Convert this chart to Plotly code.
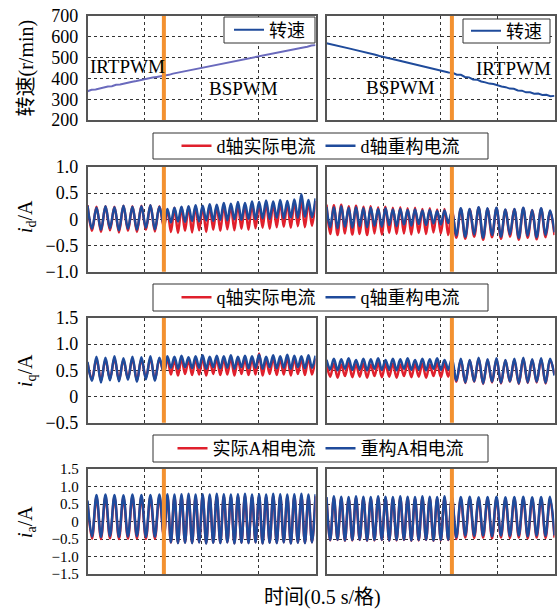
import numpy as np
import plotly.graph_objects as go

# ---------------- data ----------------
speed_left = [338, 345, 347, 352, 355, 361, 362, 369, 371, 376, 380, 384, 387, 392, 396, 399, 404, 407, 410, 416,
              417, 423, 427, 430, 434, 438, 442, 446, 449, 455, 457, 462, 465, 470, 473, 478, 481, 486, 489, 494,
              498, 502, 505, 510, 513, 518, 521, 526, 529, 534, 537, 541, 545, 549, 552, 558, 560]
speed_right = [569, 565, 561, 555, 552, 546, 542, 537, 533, 527, 524, 518, 514, 508, 504, 499, 494, 490, 485, 480,
               475, 471, 465, 462, 455, 452, 446, 443, 436, 433, 428, 427, 418, 417, 407, 405, 395, 394, 385, 381,
               375, 373, 366, 361, 358, 351, 350, 342, 341, 333, 333, 326, 327, 320, 321, 314, 316]

switch_left = 1.34
switch_right = 2.2

# d-axis current
d_blue_L_pre = [0.26, -0.18, 0.22, -0.20, 0.25, -0.17, 0.23, -0.21, 0.26, -0.18, 0.24, -0.20, 0.25, -0.16, 0.27, -0.19, 0.24, -0.10]
d_red_L_pre = [0.27, -0.22, 0.24, -0.24, 0.25, -0.21, 0.24, -0.25, 0.26, -0.22, 0.25, -0.24, 0.26, -0.20, 0.27, -0.23, 0.25, -0.15]
d_blue_L_post = [0.20, -0.06, 0.22, -0.04, 0.24, -0.05, 0.25, -0.03, 0.27, -0.04, 0.26, -0.02, 0.29, -0.03, 0.28, -0.01,
                 0.31, -0.02, 0.30, 0.00, 0.33, -0.01, 0.31, 0.01, 0.34, 0.00, 0.33, 0.02, 0.36, 0.01, 0.34, 0.03,
                 0.37, 0.02, 0.35, 0.04, 0.38, 0.03, 0.48, 0.05, 0.37, 0.04, 0.40]
d_red_L_post = [0.18, -0.24, 0.22, -0.26, 0.23, -0.22, 0.24, -0.25, 0.25, -0.21, 0.24, -0.24, 0.27, -0.20, 0.26, -0.22,
                0.28, -0.19, 0.27, -0.21, 0.29, -0.18, 0.28, -0.20, 0.30, -0.17, 0.29, -0.16, 0.32, -0.18, 0.30, -0.15,
                0.33, -0.14, 0.31, -0.16, 0.34, -0.13, 0.36, -0.15, 0.33, -0.12, 0.35]
d_blue_R_pre = [0.24, -0.15, 0.23, -0.17, 0.25, -0.14, 0.22, -0.16, 0.23, -0.13, 0.21, -0.15, 0.22, -0.12, 0.20, -0.14,
                0.21, -0.11, 0.19, -0.13, 0.20, -0.10, 0.18, -0.12, 0.19, -0.09, 0.17, -0.11, 0.18, -0.08, 0.16, -0.10,
                0.17, -0.07, 0.15]
d_red_R_pre = [0.28, -0.28, 0.27, -0.30, 0.28, -0.27, 0.25, -0.29, 0.26, -0.28, 0.24, -0.30, 0.25, -0.27, 0.23, -0.29,
               0.24, -0.26, 0.22, -0.28, 0.23, -0.27, 0.21, -0.29, 0.22, -0.26, 0.20, -0.28, 0.21, -0.25, 0.19, -0.27,
               0.20, -0.30, 0.18]
d_blue_R_post = [-0.31, 0.21, -0.33, 0.20, -0.29, 0.23, -0.35, 0.21, -0.30, 0.22, -0.33, 0.19, -0.29, 0.20, -0.35, 0.22,
                 -0.31, 0.18, -0.34, 0.21, -0.30, 0.17, -0.25]
d_red_R_post = [-0.35, 0.20, -0.37, 0.19, -0.33, 0.22, -0.39, 0.20, -0.34, 0.21, -0.37, 0.18, -0.33, 0.19, -0.39, 0.21,
                -0.35, 0.17, -0.38, 0.20, -0.34, 0.16, -0.30]

# q-axis current
q_blue_L_pre = [0.66, 0.30, 0.76, 0.27, 0.74, 0.31, 0.77, 0.29, 0.73, 0.32, 0.76, 0.28, 0.75, 0.33, 0.77, 0.30, 0.74, 0.45]
q_red_L_pre = [0.64, 0.33, 0.72, 0.31, 0.70, 0.34, 0.73, 0.32, 0.70, 0.35, 0.72, 0.31, 0.71, 0.36, 0.73, 0.33, 0.71, 0.46]
q_blue_L_post = [0.77, 0.55, 0.76, 0.53, 0.78, 0.56, 0.75, 0.54, 0.77, 0.55, 0.79, 0.53, 0.76, 0.56, 0.78, 0.54,
                 0.77, 0.55, 0.79, 0.53, 0.76, 0.56, 0.78, 0.54, 0.77, 0.55, 0.80, 0.53, 0.76, 0.56, 0.79, 0.54,
                 0.77, 0.55, 0.80, 0.53, 0.78, 0.56, 0.77, 0.54, 0.79, 0.55, 0.78]
q_red_L_post = [0.72, 0.42, 0.71, 0.40, 0.73, 0.43, 0.70, 0.41, 0.72, 0.42, 0.74, 0.40, 0.71, 0.43, 0.73, 0.41,
                0.72, 0.42, 0.74, 0.40, 0.71, 0.43, 0.72, 0.41, 0.72, 0.42, 0.82, 0.40, 0.71, 0.43, 0.74, 0.41,
                0.72, 0.42, 0.75, 0.40, 0.73, 0.43, 0.72, 0.41, 0.74, 0.42, 0.73]
q_blue_R_pre = [0.70, 0.52, 0.72, 0.50, 0.71, 0.53, 0.73, 0.51, 0.70, 0.52, 0.72, 0.50, 0.71, 0.53, 0.73, 0.51,
                0.70, 0.52, 0.72, 0.50, 0.71, 0.53, 0.73, 0.51, 0.70, 0.52, 0.72, 0.50, 0.71, 0.53, 0.73, 0.51,
                0.70, 0.52, 0.72]
q_red_R_pre = [0.62, 0.38, 0.63, 0.36, 0.61, 0.39, 0.64, 0.37, 0.62, 0.38, 0.63, 0.36, 0.61, 0.39, 0.64, 0.37,
               0.62, 0.38, 0.63, 0.36, 0.61, 0.39, 0.64, 0.37, 0.62, 0.38, 0.63, 0.36, 0.61, 0.39, 0.64, 0.37,
               0.62, 0.38, 0.63]
q_blue_R_post = [0.30, 0.72, 0.27, 0.70, 0.29, 0.74, 0.25, 0.71, 0.28, 0.73, 0.26, 0.70, 0.29, 0.72, 0.25, 0.74,
                 0.27, 0.71, 0.28, 0.73, 0.26, 0.72, 0.40]
q_red_R_post = [0.28, 0.70, 0.26, 0.69, 0.28, 0.72, 0.24, 0.70, 0.27, 0.71, 0.25, 0.69, 0.28, 0.70, 0.24, 0.72,
                0.26, 0.70, 0.27, 0.71, 0.25, 0.70, 0.42]

# A-phase current
a_blue_L_pre = [0.60, -0.43, 0.76, -0.44, 0.77, -0.42, 0.76, -0.44, 0.75, -0.43, 0.77, -0.42, 0.76, -0.44, 0.76, -0.43, 0.77, -0.40]
a_red_L_pre = [0.55, -0.49, 0.70, -0.50, 0.71, -0.48, 0.70, -0.50, 0.69, -0.49, 0.71, -0.48, 0.70, -0.50, 0.70, -0.49, 0.71, -0.45]
a_blue_L_post = [0.78, -0.60, 0.77, -0.62, 0.78, -0.61, 0.79, -0.62, 0.77, -0.60, 0.78, -0.63, 0.77, -0.61, 0.79, -0.62,
                 0.78, -0.60, 0.77, -0.63, 0.78, -0.61, 0.79, -0.62, 0.77, -0.60, 0.78, -0.63, 0.77, -0.61, 0.79, -0.62,
                 0.78, -0.60, 0.77, -0.63, 0.78, -0.61, 0.79, -0.62, 0.77, -0.60, 0.78]
a_red_L_post = [0.72, -0.60, 0.71, -0.61, 0.72, -0.60, 0.73, -0.61, 0.71, -0.59, 0.72, -0.62, 0.71, -0.60, 0.73, -0.61,
                0.72, -0.59, 0.71, -0.62, 0.72, -0.60, 0.73, -0.61, 0.71, -0.59, 0.72, -0.62, 0.71, -0.60, 0.73, -0.61,
                0.72, -0.59, 0.71, -0.62, 0.72, -0.60, 0.73, -0.61, 0.71, -0.59, 0.72]
a_blue_R_pre = [0.70, -0.53, 0.72, -0.52, 0.71, -0.54, 0.70, -0.53, 0.72, -0.52, 0.71, -0.54, 0.70, -0.53, 0.72, -0.52,
                0.71, -0.54, 0.70, -0.53, 0.72, -0.52, 0.71, -0.54, 0.70, -0.53, 0.72, -0.52, 0.71, -0.54, 0.70, -0.53,
                0.72, -0.52, 0.71]
a_red_R_pre = [0.66, -0.54, 0.68, -0.53, 0.67, -0.55, 0.66, -0.54, 0.68, -0.53, 0.67, -0.55, 0.66, -0.54, 0.68, -0.53,
               0.67, -0.55, 0.66, -0.54, 0.68, -0.53, 0.67, -0.55, 0.66, -0.54, 0.68, -0.53, 0.67, -0.55, 0.66, -0.54,
               0.68, -0.53, 0.67]
a_blue_R_post = [-0.45, 0.70, -0.40, 0.71, -0.41, 0.69, -0.40, 0.70, -0.42, 0.71, -0.40, 0.69, -0.41, 0.70, -0.40, 0.71,
                 -0.42, 0.69, -0.40, 0.70, -0.41, 0.71, -0.40]
a_red_R_post = [-0.50, 0.65, -0.46, 0.66, -0.47, 0.64, -0.46, 0.65, -0.48, 0.66, -0.46, 0.64, -0.47, 0.65, -0.46, 0.66,
                -0.48, 0.64, -0.46, 0.65, -0.47, 0.66, -0.46]

legend_names = [("转速",),
                ("d轴实际电流", "d轴重构电流"),
                ("q轴实际电流", "q轴重构电流"),
                ("实际A相电流", "重构A相电流")]
y_titles = ["转速(r/min)", "<i>i</i><sub>d</sub>/A", "<i>i</i><sub>q</sub>/A", "<i>i</i><sub>a</sub>/A"]
y_ranges = [[200, 700], [-1.0, 1.0], [-0.5, 1.5], [-1.5, 1.5]]
y_tickvals = [[200, 300, 400, 500, 600, 700],
              [-1.0, -0.5, 0, 0.5, 1.0],
              [-0.5, 0, 0.5, 1.0, 1.5],
              [-1.5, -1.0, -0.5, 0, 0.5, 1.0, 1.5]]
y_ticktext = [["200", "300", "400", "500", "600", "700"],
              ["−1.0", "−0.5", "0", "0.5", "1.0"],
              ["−0.5", "0", "0.5", "1.0", "1.5"],
              ["−1.5", "−1.0", "−0.5", "0", "0.5", "1.0", "1.5"]]

# ---------------- styling ----------------
W, H = 557, 612
FONT = "Liberation Serif, Times New Roman, Noto Sans CJK SC, serif"
RED = "#e0202c"
BLUE = "#1f4b9b"
PURPLE = "#6a6abd"
ORANGE = "#f39130"

col_px = [(87.5, 315.5), (326.5, 554.5)]
row_px = [(16, 120), (167, 271.7), (318, 422.7), (469, 574)]
tick_sizes = [18, 18, 18, 15]
# legend frames (left, top, right, bottom) in pixels
legend_boxes = {"legend": (224, 17, 315, 43), "legend5": (463, 19, 550, 43),
                "legend2": (153, 133, 488, 159), "legend3": (153, 284, 488, 311),
                "legend4": (153, 435, 488, 462)}


def seg_x(sw, n_pre, n_post):
    return np.concatenate([np.linspace(0, sw, n_pre), np.linspace(sw, 4, n_post + 1)[1:]])


fig = go.Figure()
layout = dict(width=W, height=H, margin=dict(l=0, r=0, t=0, b=0, autoexpand=False),
              paper_bgcolor="white", plot_bgcolor="white", showlegend=True,
              font=dict(family=FONT, size=18, color="black"))


def axis_idx(r, c):
    return r * 2 + c + 1


for r in range(4):
    for c in range(2):
        idx = axis_idx(r, c)
        xa = "xaxis" if idx == 1 else f"xaxis{idx}"
        ya = "yaxis" if idx == 1 else f"yaxis{idx}"
        x0, x1 = col_px[c]
        y0, y1 = row_px[r]
        layout[xa] = dict(domain=[x0 / W, x1 / W], range=[0, 4], tickvals=[0, 1, 2, 3, 4],
                          showticklabels=False, showgrid=True, griddash="dot", gridcolor="#333", gridwidth=1,
                          showline=True, mirror=True, linecolor="#555", linewidth=1.5, zeroline=False,
                          ticks="", anchor=f"y{'' if idx == 1 else idx}", fixedrange=True)
        layout[ya] = dict(domain=[1 - y1 / H, 1 - y0 / H], range=y_ranges[r], tickvals=y_tickvals[r],
                          ticktext=y_ticktext[r], showticklabels=(c == 0),
                          tickfont=dict(family=FONT, size=tick_sizes[r], color="black"),
                          showgrid=True, griddash="dot", gridcolor="#333", gridwidth=1,
                          showline=True, mirror=True, linecolor="#555", linewidth=1.5, zeroline=False,
                          ticks="", ticklabelstandoff=4, anchor=f"x{'' if idx == 1 else idx}", fixedrange=True)


def refs(r, c):
    idx = axis_idx(r, c)
    s = "" if idx == 1 else str(idx)
    return "x" + s, "y" + s


# row 1 speed
xs, ys = refs(0, 0)
fig.add_trace(go.Scatter(x=np.linspace(0, 4, len(speed_left)), y=speed_left, mode="lines",
                         line=dict(color=PURPLE, width=2), xaxis=xs, yaxis=ys, showlegend=False))
fig.add_trace(go.Scatter(x=[None], y=[None], mode="lines", name=legend_names[0][0],
                         line=dict(color=BLUE, width=2), xaxis=xs, yaxis=ys, legend="legend"))
xs, ys = refs(0, 1)
fig.add_trace(go.Scatter(x=np.linspace(0, 4, len(speed_right)), y=speed_right, mode="lines", name=legend_names[0][0],
                         line=dict(color=BLUE, width=2), xaxis=xs, yaxis=ys, legend="legend5"))

rows_data = [
    ((d_red_L_pre, d_red_L_post, d_blue_L_pre, d_blue_L_post), (d_red_R_pre, d_red_R_post, d_blue_R_pre, d_blue_R_post)),
    ((q_red_L_pre, q_red_L_post, q_blue_L_pre, q_blue_L_post), (q_red_R_pre, q_red_R_post, q_blue_R_pre, q_blue_R_post)),
    ((a_red_L_pre, a_red_L_post, a_blue_L_pre, a_blue_L_post), (a_red_R_pre, a_red_R_post, a_blue_R_pre, a_blue_R_post)),
]
for i, (left, right) in enumerate(rows_data):
    r = i + 1
    leg = f"legend{r + 1}"
    for c, data in enumerate((left, right)):
        sw = switch_left if c == 0 else switch_right
        red_pre, red_post, blue_pre, blue_post = data
        xs, ys = refs(r, c)
        red = list(red_pre) + list(red_post)
        blue = list(blue_pre) + list(blue_post)
        fig.add_trace(go.Scatter(x=seg_x(sw, len(red_pre), len(red_post)), y=red, mode="lines",
                                 line=dict(color=RED, width=2.5, shape="spline", smoothing=1.0),
                                 name=legend_names[r][0], showlegend=(c == 0), legend=leg,
                                 xaxis=xs, yaxis=ys))
        fig.add_trace(go.Scatter(x=seg_x(sw, len(blue_pre), len(blue_post)), y=blue, mode="lines",
                                 line=dict(color=BLUE, width=2.5, shape="spline", smoothing=1.0),
                                 name=legend_names[r][1], showlegend=(c == 0), legend=leg,
                                 xaxis=xs, yaxis=ys))

# switch lines
shapes = []
for r in range(4):
    for c in range(2):
        xs, ys = refs(r, c)
        sw = switch_left if c == 0 else switch_right
        shapes.append(dict(type="line", xref=xs, yref=f"{ys} domain", x0=sw, x1=sw, y0=0, y1=1,
                           line=dict(color=ORANGE, width=4), layer="above"))

# legend frames
for name, (l, t, rr, b) in legend_boxes.items():
    shapes.append(dict(type="rect", xref="paper", yref="paper", x0=l / W, x1=rr / W, y0=1 - b / H, y1=1 - t / H,
                       line=dict(color="#333", width=1), fillcolor="white", layer="above"))
layout["shapes"] = shapes

leg_common = dict(orientation="h", bgcolor="rgba(0,0,0,0)", borderwidth=0,
                  font=dict(family=FONT, size=18, color="black"), itemwidth=30,
                  tracegroupgap=0, xanchor="center", yanchor="middle")
for name, (l, t, rr, b) in legend_boxes.items():
    layout[name] = dict(leg_common, x=(l + rr) / 2 / W, y=1 - (t + b) / 2 / H)

annotations = []
row_centers = [68.5, 217, 371, 522]
for r in range(4):
    annotations.append(dict(text=y_titles[r], xref="paper", yref="paper", x=26 / W, y=1 - row_centers[r] / H,
                            textangle=-90, showarrow=False, font=dict(family=FONT, size=20, color="black"),
                            xanchor="center", yanchor="middle"))
annotations.append(dict(text="时间(0.5 s/格)", xref="paper", yref="paper", x=322 / W, y=1 - 597 / H,
                        showarrow=False, font=dict(family=FONT, size=20, color="black"),
                        xanchor="center", yanchor="middle"))
# mode labels
xs, ys = refs(0, 0)
annotations.append(dict(text="IRTPWM", xref=xs, yref=ys, x=0.0, y=456, xanchor="left", showarrow=False,
                        font=dict(family=FONT, size=19, color="black")))
annotations.append(dict(text="BSPWM", xref=xs, yref=ys, x=2.74, y=352, xanchor="center", showarrow=False,
                        font=dict(family=FONT, size=19, color="black")))
xs, ys = refs(0, 1)
annotations.append(dict(text="BSPWM", xref=xs, yref=ys, x=1.3, y=356, xanchor="center", showarrow=False,
                        font=dict(family=FONT, size=19, color="black")))
annotations.append(dict(text="IRTPWM", xref=xs, yref=ys, x=3.28, y=448, xanchor="center", showarrow=False,
                        font=dict(family=FONT, size=19, color="black")))
layout["annotations"] = annotations

fig.update_layout(**layout)
fig.write_html("out.html")
